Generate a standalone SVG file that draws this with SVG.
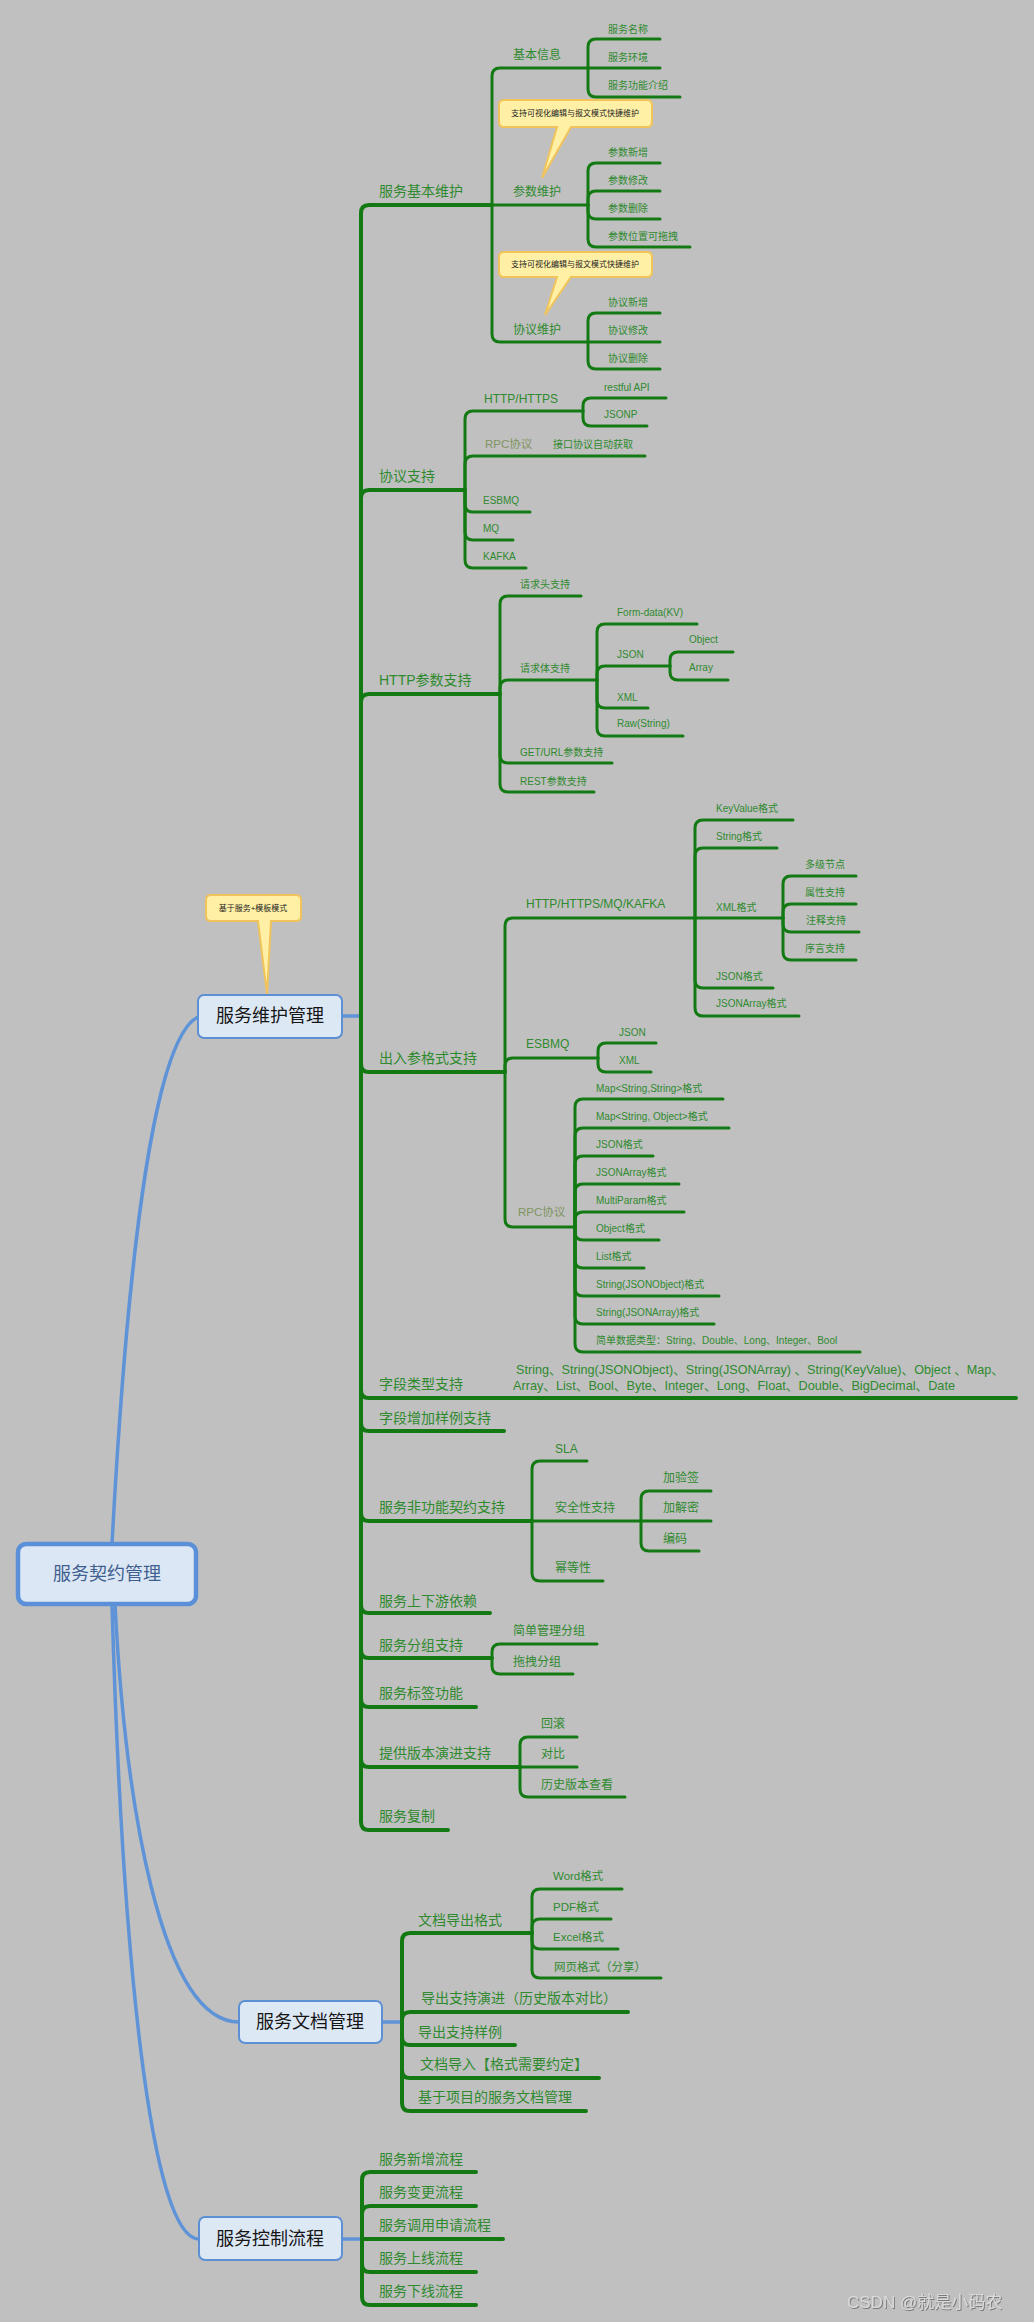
<svg xmlns="http://www.w3.org/2000/svg" width="1034" height="2322" viewBox="0 0 1034 2322">
<style>
text{font-family:"Liberation Sans","Noto Sans CJK SC",sans-serif;dominant-baseline:central;fill:#2f8a2f}
.t14{font-size:14px}
.t12{font-size:12px}
.t11{font-size:11.5px}
.t10{font-size:10px}
.t13{font-size:13px}
.rpc{fill:#7f9460}
.box{fill:#dde8f5;stroke:#5d8fd4;stroke-width:2}
.boxt{font-size:18px;fill:#151515;text-anchor:middle}
.call{fill:#fff0a6;stroke:#f0c45a;stroke-width:2}
.callt{font-size:8px;fill:#222;text-anchor:middle}
.ln{fill:none;stroke:#137a13;stroke-width:3;stroke-linecap:round}
.main{stroke-width:4}
.blue{fill:none;stroke:#5f93d8;stroke-width:3.5;stroke-linecap:round}
</style>
<defs>
<filter id="sh" x="-5%" y="-20%" width="110%" height="140%"><feDropShadow dx="1" dy="1" stdDeviation="0.6" flood-color="#7a7a7a"/></filter>
</defs>
<rect width="1034" height="2322" fill="#c0c0c0"/>

<g id="connectors">
<path class="blue" d="M112,1544 C125,1300 150,1040 198,1017"/>
<path class="blue" stroke="#4c7cbf" d="M115,1604 C125,1800 160,2022 239,2022"/>
<path class="blue" d="M112,1604 C122,1950 150,2239 199,2239"/>
<path class="blue" stroke-width="2.5" d="M342,1016 H361"/>
<path class="blue" stroke-width="3" d="M382,2022 H402"/>
<path class="blue" stroke-width="3" d="M342,2239 H362"/>

<g class="ln main">
<path d="M361,1016 V213 Q361,205 369,205 H490"/>
<path d="M361,1016 V498 Q361,490 369,490 H465"/>
<path d="M361,1016 V702 Q361,694 369,694 H500"/>
<path d="M361,1016 V1064 Q361,1072 369,1072 H505"/>
<path d="M361,1016 V1390 Q361,1398 369,1398 H1016"/>
<path d="M361,1016 V1423 Q361,1431 369,1431 H504"/>
<path d="M361,1016 V1513 Q361,1521 369,1521 H532"/>
<path d="M361,1016 V1605 Q361,1613 369,1613 H490"/>
<path d="M361,1016 V1650 Q361,1658 369,1658 H492"/>
<path d="M361,1016 V1699 Q361,1707 369,1707 H476"/>
<path d="M361,1016 V1759 Q361,1767 369,1767 H520"/>
<path d="M361,1016 V1822 Q361,1830 369,1830 H448"/>
<path d="M402,2022 V1941 Q402,1933 410,1933 H532"/>
<path d="M402,2022 V2020 Q402,2012 410,2012 H628"/>
<path d="M402,2022 V2037 Q402,2045 410,2045 H515"/>
<path d="M402,2022 V2070 Q402,2078 410,2078 H599"/>
<path d="M402,2022 V2103 Q402,2111 410,2111 H586"/>
<path d="M362,2239 V2180 Q362,2172 370,2172 H476"/>
<path d="M362,2239 V2214 Q362,2206 370,2206 H476"/>
<path d="M362,2239 H503"/>
<path d="M362,2239 V2264 Q362,2272 370,2272 H476"/>
<path d="M362,2239 V2297 Q362,2305 370,2305 H476"/>
</g>
<g class="ln">
<path d="M492,205 V76 Q492,68 500,68 H587"/>
<path d="M492,205 H588"/>
<path d="M492,205 V334 Q492,342 500,342 H588"/>
<path d="M588,68 V47 Q588,39 596,39 H660"/>
<path d="M588,68 H660"/>
<path d="M588,68 V89 Q588,97 596,97 H680"/>
<path d="M588,205 V171 Q588,163 596,163 H660"/>
<path d="M588,205 V199 Q588,191 596,191 H660"/>
<path d="M588,205 V211 Q588,219 596,219 H660"/>
<path d="M588,205 V239 Q588,247 596,247 H690"/>
<path d="M588,342 V321 Q588,313 596,313 H660"/>
<path d="M588,342 H660"/>
<path d="M588,342 V361 Q588,369 596,369 H660"/>
<path d="M465,490 V419 Q465,411 473,411 H583"/>
<path d="M465,490 V464 Q465,456 473,456 H645"/>
<path d="M465,490 V504 Q465,512 473,512 H530"/>
<path d="M465,490 V532 Q465,540 473,540 H513"/>
<path d="M465,490 V560 Q465,568 473,568 H526"/>
<path d="M583,411 V406 Q583,398 591,398 H666"/>
<path d="M583,411 V418 Q583,426 591,426 H647"/>
<path d="M500,694 V604 Q500,596 508,596 H581"/>
<path d="M500,694 V688 Q500,680 508,680 H597"/>
<path d="M500,694 V755 Q500,763 508,763 H612"/>
<path d="M500,694 V784 Q500,792 508,792 H594"/>
<path d="M597,680 V632 Q597,624 605,624 H697"/>
<path d="M597,680 V674 Q597,666 605,666 H670"/>
<path d="M597,680 V700 Q597,708 605,708 H648"/>
<path d="M597,680 V728 Q597,736 605,736 H683"/>
<path d="M670,666 V660 Q670,652 678,652 H733"/>
<path d="M670,666 V672 Q670,680 678,680 H728"/>
<path d="M505,1072 V926 Q505,918 513,918 H695"/>
<path d="M505,1072 V1066 Q505,1058 513,1058 H598"/>
<path d="M505,1072 V1219 Q505,1227 513,1227 H575"/>
<path d="M695,918 V828 Q695,820 703,820 H793"/>
<path d="M695,918 V856 Q695,848 703,848 H777"/>
<path d="M695,918 H783"/>
<path d="M695,918 V980 Q695,988 703,988 H773"/>
<path d="M695,918 V1008 Q695,1016 703,1016 H799"/>
<path d="M783,918 V884 Q783,876 791,876 H856"/>
<path d="M783,918 V912 Q783,904 791,904 H856"/>
<path d="M783,918 V924 Q783,932 791,932 H859"/>
<path d="M783,918 V952 Q783,960 791,960 H856"/>
<path d="M598,1058 V1051 Q598,1043 606,1043 H656"/>
<path d="M598,1058 V1064 Q598,1072 606,1072 H651"/>
<path d="M575,1227 V1107 Q575,1099 583,1099 H723"/>
<path d="M575,1227 V1136 Q575,1128 583,1128 H729"/>
<path d="M575,1227 V1164 Q575,1156 583,1156 H653"/>
<path d="M575,1227 V1192 Q575,1184 583,1184 H679"/>
<path d="M575,1227 V1220 Q575,1212 583,1212 H684"/>
<path d="M575,1227 V1232 Q575,1240 583,1240 H659"/>
<path d="M575,1227 V1260 Q575,1268 583,1268 H644"/>
<path d="M575,1227 V1288 Q575,1296 583,1296 H719"/>
<path d="M575,1227 V1316 Q575,1324 583,1324 H714"/>
<path d="M575,1227 V1344 Q575,1352 583,1352 H860"/>
<path d="M532,1521 V1469 Q532,1461 540,1461 H587"/>
<path d="M532,1521 H641"/>
<path d="M532,1521 V1573 Q532,1581 540,1581 H603"/>
<path d="M641,1521 V1499 Q641,1491 649,1491 H711"/>
<path d="M641,1521 H711"/>
<path d="M641,1521 V1543 Q641,1551 649,1551 H699"/>
<path d="M492,1658 V1652 Q492,1644 500,1644 H597"/>
<path d="M492,1658 V1666 Q492,1674 500,1674 H573"/>
<path d="M520,1767 V1745 Q520,1737 528,1737 H577"/>
<path d="M520,1767 H577"/>
<path d="M520,1767 V1789 Q520,1797 528,1797 H625"/>
<path d="M532,1933 V1897 Q532,1889 540,1889 H622"/>
<path d="M532,1933 V1927 Q532,1919 540,1919 H611"/>
<path d="M532,1933 V1941 Q532,1949 540,1949 H618"/>
<path d="M532,1933 V1970 Q532,1978 540,1978 H661"/>
</g>
</g>

<g id="root"><rect x="18" y="1544" width="178" height="60" rx="8" fill="#dce7f5" stroke="#5b8fd8" stroke-width="4.5"/><text class="boxt" x="107" y="1574" style="fill:#3f5f8f">服务契约管理</text></g>
<g id="maint"><rect class="box" x="198" y="995" width="144" height="43" rx="6"/><text class="boxt" x="270" y="1016">服务维护管理</text></g>
<g id="docs"><rect class="box" x="239" y="2001" width="143" height="42" rx="6"/><text class="boxt" x="310" y="2022">服务文档管理</text></g>
<g id="ctrl"><rect class="box" x="199" y="2217" width="143" height="43" rx="6"/><text class="boxt" x="270" y="2239">服务控制流程</text></g>

<g id="callout-template"><path class="call" d="M211,895 H296 Q301,895 301,900 V916 Q301,921 296,921 H271 L267,994 L258,921 H211 Q206,921 206,916 V900 Q206,895 211,895 Z"/><text class="callt" x="253" y="908">基于服务+模板模式</text></g>
<g id="callout-param"><path class="call" d="M504,100 H647 Q652,100 652,105 V122 Q652,127 647,127 H571 L542,178 L557,127 H504 Q499,127 499,122 V105 Q499,100 504,100 Z"/><text class="callt" x="575" y="113">支持可视化编辑与报文模式快捷维护</text></g>
<g id="callout-proto"><path class="call" d="M504,252 H647 Q652,252 652,257 V272 Q652,277 647,277 H571 L545,315 L557,277 H504 Q499,277 499,272 V257 Q499,252 504,252 Z"/><text class="callt" x="575" y="264">支持可视化编辑与报文模式快捷维护</text></g>

<g id="basic"><text class="t14" x="379" y="191">服务基本维护</text></g>
<g id="basic-info"><text class="t12" x="513" y="55">基本信息</text></g>
<g id="svc-name"><text class="t10" x="608" y="29">服务名称</text></g>
<g id="svc-env"><text class="t10" x="608" y="57">服务环境</text></g>
<g id="svc-desc"><text class="t10" x="608" y="85">服务功能介绍</text></g>
<g id="param"><text class="t12" x="513" y="192">参数维护</text></g>
<g id="param-add"><text class="t10" x="608" y="152">参数新增</text></g>
<g id="param-mod"><text class="t10" x="608" y="180">参数修改</text></g>
<g id="param-del"><text class="t10" x="608" y="208">参数删除</text></g>
<g id="param-drag"><text class="t10" x="608" y="236">参数位置可拖拽</text></g>
<g id="proto"><text class="t12" x="513" y="330">协议维护</text></g>
<g id="proto-add"><text class="t10" x="608" y="302">协议新增</text></g>
<g id="proto-mod"><text class="t10" x="608" y="330">协议修改</text></g>
<g id="proto-del"><text class="t10" x="608" y="358">协议删除</text></g>

<g id="protocol"><text class="t14" x="379" y="476">协议支持</text></g>
<g id="p-http"><text class="t12" x="484" y="399">HTTP/HTTPS</text></g>
<g id="p-rest"><text class="t10" x="604" y="387">restful API</text></g>
<g id="p-jsonp"><text class="t10" x="604" y="414">JSONP</text></g>
<g id="p-rpc"><text class="t11 rpc" x="485" y="444">RPC协议</text></g>
<g id="p-auto"><text class="t10" x="553" y="444">接口协议自动获取</text></g>
<g id="p-esb"><text class="t10" x="483" y="500">ESBMQ</text></g>
<g id="p-mq"><text class="t10" x="483" y="528">MQ</text></g>
<g id="p-kafka"><text class="t10" x="483" y="556">KAFKA</text></g>

<g id="httpparam"><text class="t14" x="379" y="680">HTTP参数支持</text></g>
<g id="h-head"><text class="t10" x="520" y="584">请求头支持</text></g>
<g id="h-body"><text class="t10" x="520" y="668">请求体支持</text></g>
<g id="h-form"><text class="t10" x="617" y="612">Form-data(KV)</text></g>
<g id="h-json"><text class="t10" x="617" y="654">JSON</text></g>
<g id="h-obj"><text class="t10" x="689" y="639">Object</text></g>
<g id="h-arr"><text class="t10" x="689" y="667">Array</text></g>
<g id="h-xml"><text class="t10" x="617" y="697">XML</text></g>
<g id="h-raw"><text class="t10" x="617" y="723">Raw(String)</text></g>
<g id="h-get"><text class="t10" x="520" y="752">GET/URL参数支持</text></g>
<g id="h-restp"><text class="t10" x="520" y="781">REST参数支持</text></g>

<g id="io"><text class="t14" x="379" y="1058">出入参格式支持</text></g>
<g id="io-http"><text class="t12" x="526" y="904">HTTP/HTTPS/MQ/KAFKA</text></g>
<g id="io-kv"><text class="t10" x="716" y="808">KeyValue格式</text></g>
<g id="io-str"><text class="t10" x="716" y="836">String格式</text></g>
<g id="io-xml"><text class="t10" x="716" y="907">XML格式</text></g>
<g id="io-x1"><text class="t10" x="805" y="864">多级节点</text></g>
<g id="io-x2"><text class="t10" x="805" y="892">属性支持</text></g>
<g id="io-x3"><text class="t10" x="806" y="920">注释支持</text></g>
<g id="io-x4"><text class="t10" x="805" y="948">序言支持</text></g>
<g id="io-json"><text class="t10" x="716" y="976">JSON格式</text></g>
<g id="io-jarr"><text class="t10" x="716" y="1003">JSONArray格式</text></g>
<g id="io-esb"><text class="t12" x="526" y="1044">ESBMQ</text></g>
<g id="io-esb-json"><text class="t10" x="619" y="1032">JSON</text></g>
<g id="io-esb-xml"><text class="t10" x="619" y="1060">XML</text></g>
<g id="io-rpc"><text class="t11 rpc" x="518" y="1212">RPC协议</text></g>
<g id="r1"><text class="t10" x="596" y="1088">Map&lt;String,String&gt;格式</text></g>
<g id="r2"><text class="t10" x="596" y="1116">Map&lt;String, Object&gt;格式</text></g>
<g id="r3"><text class="t10" x="596" y="1144">JSON格式</text></g>
<g id="r4"><text class="t10" x="596" y="1172">JSONArray格式</text></g>
<g id="r5"><text class="t10" x="596" y="1200">MultiParam格式</text></g>
<g id="r6"><text class="t10" x="596" y="1228">Object格式</text></g>
<g id="r7"><text class="t10" x="596" y="1256">List格式</text></g>
<g id="r8"><text class="t10" x="596" y="1284">String(JSONObject)格式</text></g>
<g id="r9"><text class="t10" x="596" y="1312">String(JSONArray)格式</text></g>
<g id="r10"><text class="t10" x="596" y="1340">简单数据类型：String、Double、Long、Integer、Bool</text></g>

<g id="fieldtype"><text class="t14" x="379" y="1384">字段类型支持</text></g>
<g id="fieldtype-list"><text class="t13" x="516" y="1369" textLength="488" lengthAdjust="spacingAndGlyphs">String、String(JSONObject)、String(JSONArray) 、String(KeyValue)、Object 、Map、</text><text class="t13" x="513" y="1385" textLength="442" lengthAdjust="spacingAndGlyphs">Array、List、Bool、Byte、Integer、Long、Float、Double、BigDecimal、Date</text></g>
<g id="fieldsample"><text class="t14" x="379" y="1418">字段增加样例支持</text></g>
<g id="nonfunc"><text class="t14" x="379" y="1507">服务非功能契约支持</text></g>
<g id="sla"><text class="t12" x="555" y="1449">SLA</text></g>
<g id="security"><text class="t12" x="555" y="1508">安全性支持</text></g>
<g id="sec-sign"><text class="t12" x="663" y="1478">加验签</text></g>
<g id="sec-enc"><text class="t12" x="663" y="1508">加解密</text></g>
<g id="sec-code"><text class="t12" x="663" y="1539">编码</text></g>
<g id="idem"><text class="t12" x="555" y="1568">幂等性</text></g>
<g id="updown"><text class="t14" x="379" y="1601">服务上下游依赖</text></g>
<g id="group"><text class="t14" x="379" y="1645">服务分组支持</text></g>
<g id="group-simple"><text class="t12" x="513" y="1631">简单管理分组</text></g>
<g id="group-drag"><text class="t12" x="513" y="1662">拖拽分组</text></g>
<g id="tag"><text class="t14" x="379" y="1693">服务标签功能</text></g>
<g id="version"><text class="t14" x="379" y="1753">提供版本演进支持</text></g>
<g id="v-roll"><text class="t12" x="541" y="1724">回滚</text></g>
<g id="v-cmp"><text class="t12" x="541" y="1754">对比</text></g>
<g id="v-hist"><text class="t12" x="541" y="1785">历史版本查看</text></g>
<g id="copy"><text class="t14" x="379" y="1816">服务复制</text></g>

<g id="d-export"><text class="t14" x="418" y="1920">文档导出格式</text></g>
<g id="d-word"><text class="t11" x="553" y="1876">Word格式</text></g>
<g id="d-pdf"><text class="t11" x="553" y="1907">PDF格式</text></g>
<g id="d-excel"><text class="t11" x="553" y="1937">Excel格式</text></g>
<g id="d-web"><text class="t11" x="554" y="1967">网页格式（分享）</text></g>
<g id="d-evo"><text class="t14" x="421" y="1998">导出支持演进（历史版本对比）</text></g>
<g id="d-sample"><text class="t14" x="418" y="2032">导出支持样例</text></g>
<g id="d-import"><text class="t14" x="420" y="2064">文档导入【格式需要约定】</text></g>
<g id="d-proj"><text class="t14" x="418" y="2097">基于项目的服务文档管理</text></g>

<g id="c-new"><text class="t14" x="379" y="2159">服务新增流程</text></g>
<g id="c-chg"><text class="t14" x="379" y="2192">服务变更流程</text></g>
<g id="c-call"><text class="t14" x="379" y="2225">服务调用申请流程</text></g>
<g id="c-on"><text class="t14" x="379" y="2258">服务上线流程</text></g>
<g id="c-off"><text class="t14" x="379" y="2291">服务下线流程</text></g>

<text x="847" y="2302" style="font-size:17px;fill:#dadada" filter="url(#sh)">CSDN @就是小码农</text>
</svg>
